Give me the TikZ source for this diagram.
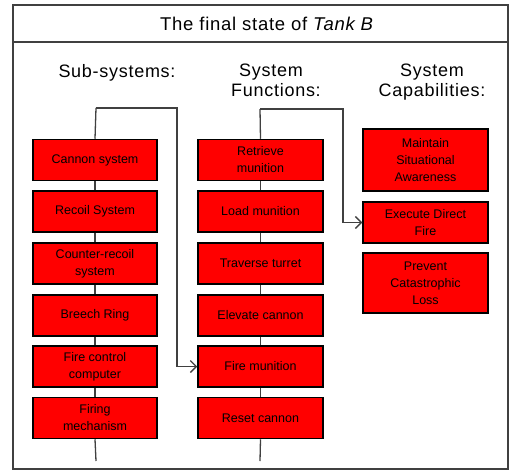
\documentclass[tikz,border=0pt]{standalone}
\usepackage{fontspec}
\setmainfont{Liberation Sans}
\newfontfamily\spacedfont[LetterSpace=4]{Liberation Sans}
\usetikzlibrary{arrows.meta}
\begin{document}
\begin{tikzpicture}[x=1pt,y=-1pt,
  frame/.style={draw=black!75, line width=1.5pt},
  redbox/.style={draw=black, line width=1.5pt, fill=red, minimum width=124pt,
    minimum height=41pt, inner sep=0pt, align=center, text=black,
    font=\fontsize{12.5}{17}\selectfont},
  link/.style={draw=black!75, line width=1.3pt},
  linkarrow/.style={link, -{Straight Barb[length=6pt,width=12pt,line width=1.3pt]}},
  head/.style={align=center, font=\spacedfont\fontsize{18}{20}\selectfont, inner sep=0pt}]
\useasboundingbox (0,0) rectangle (511,471);

% outer frame and title bar
\draw[frame] (13,5) rectangle (508,469);
\draw[frame] (13,42) -- (508,42);
\node[font=\spacedfont\fontsize{18.5}{20}\selectfont, inner sep=0pt] (title) at (267,24)
  {The final state of \textit{Tank B}};

% column headings
\node[head, anchor=base] (hsub) at (117,77) {Sub-systems:};
\node[head, anchor=base] (hfun1) at (271,76) {System};
\node[head, anchor=base] (hfun2) at (276,96) {Functions:};
\node[head, anchor=base] (hcap1) at (432,76) {System};
\node[head, anchor=base] (hcap2) at (432,96) {Capabilities:};

% spine end points
\coordinate (c1top) at (96,108);
\coordinate (c1turn) at (177,108);
\coordinate (c1bot) at (96,461);
\coordinate (c2top) at (260,109);
\coordinate (c2turn) at (343,109);
\coordinate (c2bot) at (260,461);

% sub-systems
\node[redbox] (s1) at (95,160)   {Cannon system};
\node[redbox] (s2) at (95,211.5) {Recoil System};
\node[redbox] (s3) at (95,263.5) {Counter-recoil\\system};
\node[redbox] (s4) at (95,315.5) {Breech Ring};
\node[redbox] (s5) at (95,366.5) {Fire control\\computer};
\node[redbox] (s6) at (95,418)   {Firing\\mechanism};

% system functions
\node[redbox, minimum width=125pt] (f1) at (260.5,160)   {Retrieve\\munition};
\node[redbox, minimum width=125pt] (f2) at (260.5,211.5) {Load munition};
\node[redbox, minimum width=125pt] (f3) at (260.5,263.5) {Traverse turret};
\node[redbox, minimum width=125pt] (f4) at (260.5,315.5) {Elevate cannon};
\node[redbox, minimum width=125pt] (f5) at (260.5,366.5) {Fire munition};
\node[redbox, minimum width=125pt] (f6) at (260.5,418)   {Reset cannon};

% system capabilities
\node[redbox, minimum width=125pt, minimum height=62pt] (k1) at (425.5,160) {Maintain\\Situational\\Awareness};
\node[redbox, minimum width=125pt] (k2) at (425.5,222.5) {Execute Direct\\Fire};
\node[redbox, minimum width=125pt, minimum height=60pt] (k3) at (425.5,283) {Prevent\\Catastrophic\\Loss};

% sub-system spine
\draw[link] (c1top) -- (s1.north);
\draw[link] (s1.south) -- (s2.north);
\draw[link] (s2.south) -- (s3.north);
\draw[link] (s3.south) -- (s4.north);
\draw[link] (s4.south) -- (s5.north);
\draw[link] (s5.south) -- (s6.north);
\draw[link] (s6.south) -- (c1bot);

% function spine
\draw[link] (c2top) -- (f1.north);
\draw[link] (f1.south) -- (f2.north);
\draw[link] (f2.south) -- (f3.north);
\draw[link] (f3.south) -- (f4.north);
\draw[link] (f4.south) -- (f5.north);
\draw[link] (f5.south) -- (f6.north);
\draw[link] (f6.south) -- (c2bot);

% cross links
\draw[linkarrow] (c1top) -- (c1turn) |- (f5.west);
\draw[linkarrow] (c2top) -- (c2turn) |- (k2.west);
\end{tikzpicture}
\end{document}
